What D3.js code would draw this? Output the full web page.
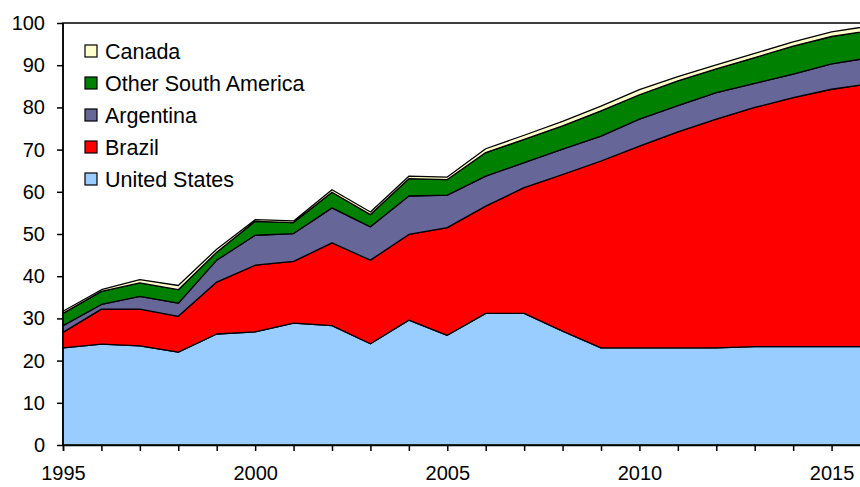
<!DOCTYPE html>
<html>
<head>
<meta charset="utf-8">
<script src="https://cdn.jsdelivr.net/npm/d3@7"></script>
<style>
	body { margin: 0; background: #fff; }
	svg { display: block; font-family: "Liberation Sans", Arial, sans-serif; }
	.axis path, .axis line { stroke: #000; stroke-width: 1.5; }
	.axis text { font-size: 20px; fill: #000; }
	.legend text { font-size: 21.5px; fill: #000; }
</style>
</head>
<body>
<div id="chart"></div>
<script>
//Data
var years = [1995,1996,1997,1998,1999,2000,2001,2002,2003,2004,2005,2006,2007,2008,2009,2010,2011,2012,2013,2014,2015,2016];
var unitedStates      = [23.0,23.9,23.5,22.0,26.3,26.8,28.9,28.3,24.0,29.6,26.0,31.2,31.2,27.0,23.0,23.0,23.0,23.0,23.3,23.3,23.3,23.3];
var brazil            = [ 3.7, 8.3, 8.7, 8.5,12.3,15.8,14.6,19.6,19.8,20.3,25.5,25.4,29.8,37.1,44.3,47.8,51.2,54.2,56.7,59.0,61.0,62.3];
var argentina         = [ 1.6, 1.1, 3.0, 3.1, 5.2, 7.1, 6.6, 8.3, 7.9, 9.1, 7.7, 7.1, 5.9, 6.0, 5.9, 6.4, 6.2, 6.3, 5.7, 5.6, 6.0, 6.2];
var otherSouthAmerica = [ 2.9, 3.1, 3.2, 3.2, 1.9, 3.3, 2.6, 3.7, 2.9, 4.1, 3.7, 5.6, 5.5, 5.5, 6.0, 5.8, 5.9, 5.6, 6.1, 6.6, 6.5, 6.4];
var canada            = [ 0.5, 0.4, 0.8, 1.0, 0.7, 0.4, 0.4, 0.6, 0.6, 0.6, 0.6, 0.9, 1.0, 1.1, 1.1, 1.2, 1.0, 1.0, 1.0, 1.0, 1.1, 1.1];

var seriesNames = ["United States","Brazil","Argentina","Other South America","Canada"];
var seriesValues = [unitedStates, brazil, argentina, otherSouthAmerica, canada];
var seriesColors = ["#99CCFF","#FF0000","#666699","#008000","#FFFFCC"];

var yTicks = [0,10,20,30,40,50,60,70,80,90,100];
var xLabelYears = [1995,2000,2005,2010,2015];

//Build table rows for d3.stack
var table = years.map(function(y, i) {
	var row = {year: y};
	seriesNames.forEach(function(name, s) { row[name] = seriesValues[s][i]; });
	return row;
});

var W = 860, H = 487;
var margin = {top: 23, left: 63, bottom: 42};
var plotRight = 870; //plot runs past the picture edge, as in the reference

var xScale = d3.scaleLinear().domain([1995, 2016]).range([margin.left, plotRight]);
var yScale = d3.scaleLinear().domain([0, 100]).range([H - margin.bottom, margin.top]);

var svg = d3.select("#chart").append("svg")
	.attr("width", W)
	.attr("height", H);

var stack = d3.stack().keys(seriesNames);
var layers = stack(table);

var area = d3.area()
	.x(function(d) { return xScale(d.data.year); })
	.y0(function(d) { return yScale(d[0]); })
	.y1(function(d) { return yScale(d[1]); });

//Plot area frame
svg.append("rect")
	.attr("x", margin.left)
	.attr("y", yScale(100))
	.attr("width", plotRight - margin.left)
	.attr("height", yScale(0) - yScale(100))
	.attr("fill", "none")
	.attr("stroke", "#000")
	.attr("stroke-width", 1.5);

//Areas
svg.selectAll("path.layer")
	.data(layers)
	.enter()
	.append("path")
		.attr("class", "layer")
		.attr("d", area)
		.attr("fill", function(d, i) { return seriesColors[i]; })
		.attr("stroke", "#000")
		.attr("stroke-width", 1.3)
		.attr("stroke-linejoin", "round");

//Axes
var yAxis = d3.axisLeft(yScale)
	.tickValues(yTicks)
	.tickSize(6)
	.tickPadding(12)
	.tickFormat(d3.format("d"));

svg.append("g")
	.attr("class", "axis y-axis")
	.attr("transform", "translate(" + margin.left + ",0)")
	.call(yAxis)
	.call(function(g) { g.select(".domain").attr("d", "M0," + yScale(0) + "V" + yScale(100)); });

var xAxis = d3.axisBottom(xScale)
	.tickValues(d3.range(1995, 2017))
	.tickSize(6)
	.tickPadding(15)
	.tickFormat(function(d) { return xLabelYears.indexOf(d) >= 0 ? d : ""; });

svg.append("g")
	.attr("class", "axis x-axis")
	.attr("transform", "translate(0," + yScale(0) + ")")
	.call(xAxis);

//Legend, top-down: Canada first
var legendOrder = seriesNames.slice().reverse();
var legend = svg.append("g")
	.attr("class", "legend")
	.attr("transform", "translate(85,45)");

var items = legend.selectAll("g.item")
	.data(legendOrder)
	.enter()
	.append("g")
		.attr("class", "item")
		.attr("transform", function(d, i) { return "translate(0," + (i * 32) + ")"; });

items.append("rect")
	.attr("width", 12)
	.attr("height", 12)
	.attr("fill", function(d) { return seriesColors[seriesNames.indexOf(d)]; })
	.attr("stroke", "#000")
	.attr("stroke-width", 1.2);

items.append("text")
	.attr("x", 20)
	.attr("y", 14)
	.text(function(d) { return d; });
</script>
</body>
</html>
